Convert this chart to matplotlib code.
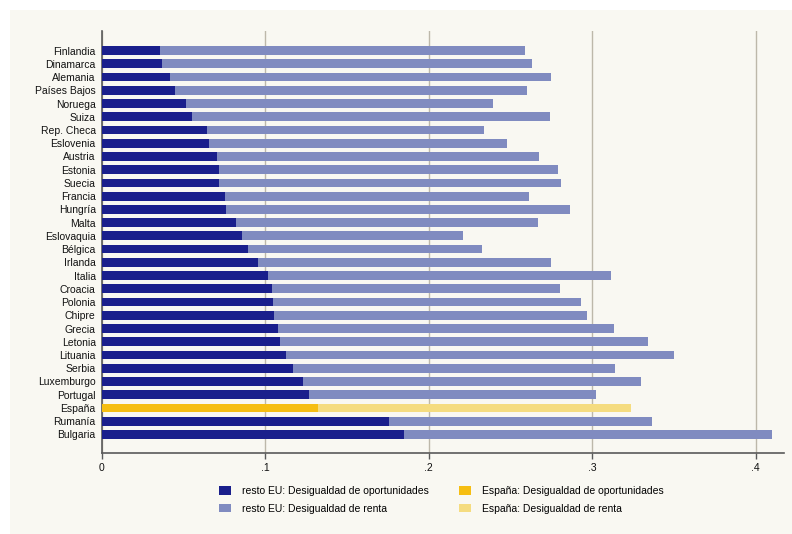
import matplotlib
matplotlib.use("Agg")
import matplotlib.pyplot as plt
from matplotlib.patches import Rectangle, Patch
import numpy as np

plt.rcParams['font.family'] = ['Liberation Sans', 'DejaVu Sans']

countries = ["Finlandia", "Dinamarca", "Alemania", "Países Bajos", "Noruega", "Suiza",
             "Rep. Checa", "Eslovenia", "Austria", "Estonia", "Suecia", "Francia",
             "Hungría", "Malta", "Eslovaquia", "Bélgica", "Irlanda", "Italia", "Croacia",
             "Polonia", "Chipre", "Grecia", "Letonia", "Lituania", "Serbia", "Luxemburgo",
             "Portugal", "España", "Rumanía", "Bulgaria"]
oportunidades = [0.0355, 0.0367, 0.0416, 0.0446, 0.0514, 0.0550, 0.0642, 0.0656, 0.0703,
                 0.0718, 0.0718, 0.0752, 0.0758, 0.0820, 0.0856, 0.0895, 0.0954, 0.1019,
                 0.1042, 0.1048, 0.1052, 0.1081, 0.1091, 0.1125, 0.1168, 0.1229, 0.1266,
                 0.1325, 0.1757, 0.1851]
renta = [0.2591, 0.2634, 0.2746, 0.2599, 0.2391, 0.2742, 0.2336, 0.2477, 0.2673, 0.2791,
         0.2809, 0.2613, 0.2864, 0.2668, 0.2210, 0.2328, 0.2746, 0.3117, 0.2801, 0.2930,
         0.2966, 0.3133, 0.3341, 0.3498, 0.3138, 0.3298, 0.3025, 0.3235, 0.3366, 0.4102]
xticks = [0, 0.1, 0.2, 0.3, 0.4]
xticklabels = ["0", ".1", ".2", ".3", ".4"]
highlight = "España"

c_dark = "#1a1f8c"
c_light = "#808bc0"
c_gold = "#f6be12"
c_pale = "#f5dc80"
bg = "#f9f8f2"

fig = plt.figure(figsize=(7.92, 5.34), dpi=100)
fig.patch.set_facecolor("white")
fig.patches.append(Rectangle((10/792, 0), 1, 1 - 10/534, transform=fig.transFigure,
                             facecolor=bg, edgecolor="none", zorder=-10))

ax = fig.add_axes([101.7/792, 1 - 453.3/534, (784.3 - 101.7)/792, (453.3 - 31)/534])
ax.set_facecolor(bg)

y = np.arange(len(countries))
lc = [c_pale if c == highlight else c_light for c in countries]
dc = [c_gold if c == highlight else c_dark for c in countries]
ax.barh(y, renta, height=0.66, color=lc, edgecolor="none", zorder=2)
ax.barh(y, oportunidades, height=0.66, color=dc, edgecolor="none", zorder=3)

ax.set_yticks(y)
ax.set_yticklabels(countries, fontsize=7.5, color="#111111")
ax.tick_params(axis="y", length=0, pad=4.3)
ax.set_ylim(len(countries) - 1 + 1.43, -1.48)

ax.set_xlim(0, 0.4175)
ax.set_xticks(xticks)
ax.set_xticklabels(xticklabels, fontsize=7.5, color="#111111")
ax.tick_params(axis="x", length=4, width=1, color="#5a5a5a", pad=3)
ax.grid(axis="x", color="#bdb8aa", linewidth=1.0, zorder=0)
ax.set_axisbelow(True)

for s in ["top", "right"]:
    ax.spines[s].set_visible(False)
for s in ["left", "bottom"]:
    ax.spines[s].set_color("#5a5a5a")
    ax.spines[s].set_linewidth(1.2)

handles = [Patch(facecolor=c_dark, label="resto EU: Desigualdad de oportunidades"),
           Patch(facecolor=c_light, label="resto EU: Desigualdad de renta"),
           Patch(facecolor=c_gold, label="España: Desigualdad de oportunidades"),
           Patch(facecolor=c_pale, label="España: Desigualdad de renta")]
leg = fig.legend(handles=handles, ncol=2, loc="center", bbox_to_anchor=(441/792, 1 - 500/534),
                 frameon=False, fontsize=7.5, handlelength=1.2, handleheight=0.9,
                 handletextpad=1.0, columnspacing=2.9, labelspacing=0.7)

fig.savefig("out.png", dpi=100, facecolor=fig.get_facecolor())
